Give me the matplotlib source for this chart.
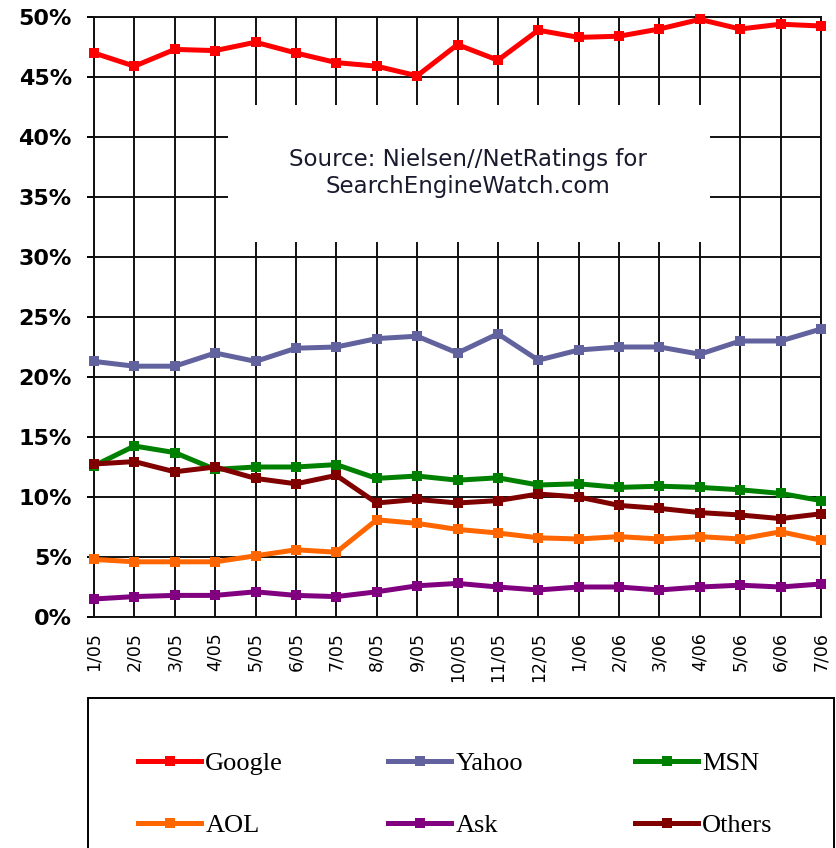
import matplotlib
matplotlib.use("Agg")
import matplotlib.pyplot as plt
from matplotlib.patches import Rectangle

months = ["1/05", "2/05", "3/05", "4/05", "5/05", "6/05", "7/05", "8/05", "9/05",
          "10/05", "11/05", "12/05", "1/06", "2/06", "3/06", "4/06", "5/06", "6/06", "7/06"]

google = [47.0, 45.9, 47.3, 47.2, 47.9, 47.0, 46.2, 45.9, 45.1, 47.7, 46.4, 48.9, 48.3,
          48.4, 49.0, 49.8, 49.0, 49.4, 49.25]
yahoo = [21.3, 20.9, 20.9, 22.0, 21.3, 22.4, 22.5, 23.2, 23.4, 22.0, 23.6, 21.4, 22.25,
         22.5, 22.5, 21.9, 23.0, 23.0, 24.0]
msn = [12.6, 14.25, 13.7, 12.3, 12.5, 12.5, 12.7, 11.55, 11.75, 11.4, 11.6, 11.0, 11.1,
       10.8, 10.9, 10.8, 10.6, 10.3, 9.7]
aol = [4.8, 4.6, 4.6, 4.6, 5.1, 5.6, 5.4, 8.1, 7.8, 7.3, 7.0, 6.6, 6.5, 6.7, 6.5, 6.7,
       6.5, 7.1, 6.4]
ask = [1.5, 1.7, 1.8, 1.8, 2.1, 1.8, 1.7, 2.1, 2.6, 2.8, 2.5, 2.25, 2.5, 2.5, 2.25, 2.5,
       2.65, 2.5, 2.75]
others = [12.75, 12.95, 12.1, 12.5, 11.55, 11.1, 11.8, 9.5, 9.8, 9.5, 9.7, 10.25, 10.0,
          9.3, 9.05, 8.7, 8.5, 8.2, 8.6]

series = [("Google", google, "#ff0000"),
          ("Yahoo", yahoo, "#62629e"),
          ("MSN", msn, "#008000"),
          ("AOL", aol, "#ff6600"),
          ("Ask", ask, "#800080"),
          ("Others", others, "#800000")]

yticks = [0, 5, 10, 15, 20, 25, 30, 35, 40, 45, 50]
ytick_labels = [f"{v}%" for v in yticks]
source_text = "Source: Nielsen//NetRatings for\nSearchEngineWatch.com"

fig = plt.figure(figsize=(8.36, 8.48), dpi=100)
ax = fig.add_axes([94 / 836, 1 - 617 / 848, 727 / 836, 600 / 848])

x = list(range(len(months)))
handles = {}
for name, vals, col in series:
    ln, = ax.plot(x, vals, color=col, lw=3.6, marker="s", markersize=7.5,
                  markeredgewidth=0, zorder=3, label=name, clip_on=False)
    handles[name] = ln

ax.set_xlim(0, len(months) - 1)
ax.set_ylim(0, 50)
ax.set_xticks(x)
ax.set_xticklabels(months, rotation=90, fontsize=12.5, family="DejaVu Sans")
ax.set_yticks(yticks)
ax.set_yticklabels(ytick_labels, fontsize=16, fontweight="bold", family="DejaVu Sans")
ax.tick_params(axis="x", length=0, pad=11)
ax.tick_params(axis="y", length=5, width=1.4, pad=11, direction="out")

ax.set_axisbelow(True)
ax.grid(True, color="#111111", lw=1.4)
for sp in ax.spines.values():
    sp.set_color("#111111")
    sp.set_linewidth(1.4)

# white source box interrupting the gridlines
ax.add_patch(Rectangle((3.31, 31.25), 15.24 - 3.31, 42.7 - 31.25, facecolor="white",
                       edgecolor="none", zorder=1))
ax.text(9.27, 37.0, source_text, ha="center", va="center", fontsize=16.5,
        family="DejaVu Sans", color="#1a1a2e", linespacing=1.2, zorder=2)

# legend frame
fig.patches.append(Rectangle((88 / 836, -0.05), (834 - 88) / 836, 0.05 + 1 - 698 / 848,
                             transform=fig.transFigure, facecolor="white",
                             edgecolor="black", lw=1.4, figure=fig))

col_names = [("Google", "AOL"), ("Yahoo", "Ask"), ("MSN", "Others")]
col_x = [138, 388, 635]
for cx, names in zip(col_x, col_names):
    fig.legend(handles=[handles[n] for n in names], labels=list(names),
               loc="upper left", bbox_to_anchor=(cx / 836, 1 - 752 / 848),
               frameon=False, ncol=1, borderpad=0, borderaxespad=0,
               handlelength=2.4, handletextpad=0.15, labelspacing=1.45,
               prop={"family": "Liberation Serif", "size": 19})

fig.savefig("out.png", dpi=100, facecolor="white")
